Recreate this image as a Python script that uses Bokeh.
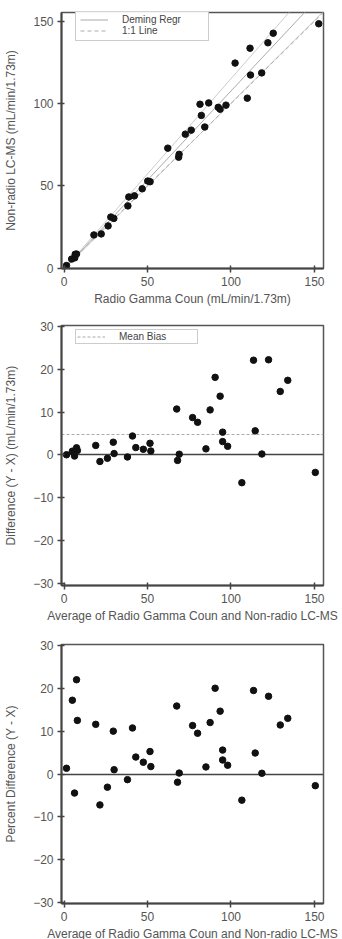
import numpy as np
from bokeh.plotting import figure
from bokeh.layouts import column
from bokeh.models import Legend, LegendItem
from bokeh.embed import file_html
from bokeh.resources import INLINE

# ---- data ----
radio_gamma = [1.49, 4.57, 6.44, 6.68, 7.50, 17.90, 22.28, 26.40, 28.03, 29.85,
               38.25, 38.80, 42.15, 46.85, 50.15, 51.55, 62.15, 68.65, 68.93, 72.65,
               76.20, 84.30, 82.25, 81.45, 86.65, 92.35, 93.45, 97.00, 109.75, 102.45,
               111.70, 118.40, 111.40, 122.10, 125.30, 152.55]
lcms = [1.51, 5.43, 6.16, 8.33, 8.50, 20.10, 20.73, 25.60, 30.98, 30.15,
        37.75, 43.20, 43.85, 48.15, 52.85, 52.45, 72.85, 67.35, 69.08, 81.35,
        83.80, 85.70, 92.75, 99.55, 100.35, 97.65, 96.55, 99.00, 103.25, 124.55,
        117.30, 118.60, 133.60, 136.90, 142.70, 148.45]

x_ticks = [0, 50, 100, 150]
y1_ticks = [0, 50, 100, 150]
y23_ticks = [-30, -20, -10, 0, 10, 20, 30]

X_RANGE = (-1.5, 155.4)

FONT = "Liberation Sans"
TXT = "#555555"
AX = "#444444"

X = np.array(radio_gamma)
Y = np.array(lcms)
avg = (X + Y) / 2
diff = Y - X
pct = diff / avg * 100
mean_bias = diff.mean()


def deming(x, y):
    mx, my = x.mean(), y.mean()
    sxx = ((x - mx) ** 2).sum()
    syy = ((y - my) ** 2).sum()
    sxy = ((x - mx) * (y - my)).sum()
    b = (syy - sxx + np.sqrt((syy - sxx) ** 2 + 4 * sxy ** 2)) / (2 * sxy)
    return my - b * mx, b


a, b = deming(X, Y)
n = len(X)
bj = np.array([deming(np.delete(X, i), np.delete(Y, i))[1] for i in range(n)])
pseudo = n * b - (n - 1) * bj
se_b = pseudo.std(ddof=1) / np.sqrt(n)
b_lo, b_hi = b - 2.03 * se_b, b + 2.03 * se_b
xl = np.array(X_RANGE)


def style(p, xlab, ylab, yticks):
    p.background_fill_color = "white"
    p.border_fill_color = "white"
    p.outline_line_color = "#555555"
    p.outline_line_width = 1.5
    p.grid.visible = False
    for ax in (p.xaxis[0], p.yaxis[0]):
        ax.axis_line_color = AX
        ax.axis_line_width = 2
        ax.major_tick_line_color = AX
        ax.major_tick_line_width = 1.5
        ax.major_tick_in = 3
        ax.major_tick_out = 4
        ax.minor_tick_line_color = None
        ax.major_label_text_font = FONT
        ax.major_label_text_font_size = "12px"
        ax.major_label_text_color = TXT
        ax.major_label_standoff = 4
        ax.axis_label_text_font = FONT
        ax.axis_label_text_font_size = "12px"
        ax.axis_label_text_font_style = "normal"
        ax.axis_label_text_color = TXT
    p.xaxis[0].axis_label = xlab
    p.yaxis[0].axis_label = ylab
    p.xaxis[0].ticker = x_ticks
    p.yaxis[0].ticker = yticks
    p.xaxis[0].axis_label_standoff = 3
    p.yaxis[0].axis_label_standoff = 12


def mkfig(yr, top, fh, bottom):
    return figure(frame_width=262, frame_height=fh, x_range=X_RANGE, y_range=yr,
                  min_border_left=61, min_border_right=19, min_border_top=top,
                  min_border_bottom=bottom, output_backend="svg", toolbar_location=None)


def leg(p, items, x, y, pad, lh, lw):
    L = Legend(items=items, location=(x, y))
    L.border_line_color = "#999999"
    L.border_line_width = 1
    L.background_fill_color = "white"
    L.label_text_font = FONT
    L.label_text_font_size = "10px"
    L.label_text_color = "#444444"
    L.padding = pad
    L.spacing = 0
    L.label_height = lh
    L.glyph_height = lh
    L.glyph_width = 28
    L.label_standoff = 14
    L.label_width = lw
    L.margin = 0
    p.add_layout(L)


# ---- panel 1: scatter with Deming regression ----
p1 = mkfig((-0.3, 155.3), 12, 256, 42)
style(p1, "Radio Gamma Coun (mL/min/1.73m)", "Non-radio LC-MS (mL/min/1.73m)", y1_ticks)
r_hi = p1.line(xl, a + b_hi * xl, line_color="#cccccc", line_width=1)
r_lo = p1.line(xl, a + b_lo * xl, line_color="#cccccc", line_width=1)
r_dem = p1.line(xl, a + b * xl, line_color="#aaaaaa", line_width=1)
r_11 = p1.line(xl, xl, line_color="#aaaaaa", line_width=1, line_dash="4 3")
p1.scatter(X, Y, size=6.5, color="#111111", marker="circle")
leg(p1, [LegendItem(label="Deming Regr", renderers=[r_dem]),
         LegendItem(label="1:1 Line", renderers=[r_11])], 14, 227, 4, 9, 82)

# ---- panel 2: Bland-Altman difference ----
p2 = mkfig((-30.5, 30.2), 15, 260, 39)
style(p2, "Average of Radio Gamma Coun and Non-radio LC-MS",
      "Difference (Y - X) (mL/min/1.73m)", y23_ticks)
p2.hspan(y=[0], line_color=AX, line_width=1.5)
r_mb = p2.hspan(y=[mean_bias], line_color="#aaaaaa", line_width=1, line_dash="3 2")
p2.scatter(avg, diff, size=6.5, color="#111111", marker="circle")
leg(p2, [LegendItem(label="Mean Bias", renderers=[r_mb])], 14, 241, 1, 11, 77)

# ---- panel 3: percent difference ----
p3 = mkfig((-30.2, 30.2), 19, 259, 37)
style(p3, "Average of Radio Gamma Coun and Non-radio LC-MS",
      "Percent Difference (Y - X)", y23_ticks)
p3.hspan(y=[0], line_color=AX, line_width=1.5)
p3.scatter(avg, pct, size=6.5, color="#111111", marker="circle")

layout = column(p1, p2, p3, spacing=0)
open("out.html", "w").write(file_html(layout, INLINE))
